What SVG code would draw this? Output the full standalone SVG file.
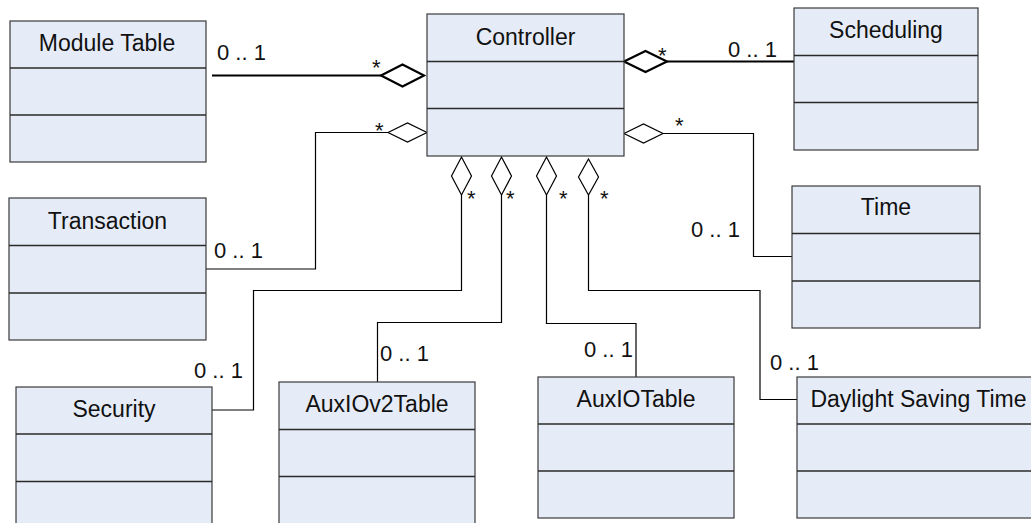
<svg xmlns="http://www.w3.org/2000/svg" width="1031" height="523" viewBox="0 0 1031 523">
<style>
.box{fill:#E6ECF7;stroke:#3a3a3a;stroke-width:1.2}
.div{stroke:#2a2a2a;stroke-width:1.4;fill:none}
.t{font-family:"Liberation Sans",Arial,sans-serif;font-size:22px;fill:#111}
.c{text-anchor:middle;font-size:23px}
.ln{fill:none;stroke:#000;stroke-width:1.2}
.thick{fill:none;stroke:#000;stroke-width:2.2}
.dm{fill:#fff;stroke:#000;stroke-width:1.2}
.dmt{fill:#fff;stroke:#000;stroke-width:2.2}
</style>
<rect width="1031" height="523" fill="#fff"/>
<g id="connectors">
  <path class="thick" d="M212,75.5H381"/>
  <polygon class="dmt" points="381,75.5 402.5,64.5 424,75.5 402.5,86.5"/>
  <path class="thick" d="M667,61.5H794"/>
  <polygon class="dmt" points="624,61.5 645.5,51 667,61.5 645.5,72"/>
  <path class="ln" d="M388,132.5H315.5V269H206"/>
  <polygon class="dm" points="388,132.5 407.5,123 427,132.5 407.5,142"/>
  <path class="ln" d="M663,133.5H753.5V256.5H792"/>
  <polygon class="dm" points="624,133.5 643.5,124 663,133.5 643.5,143"/>
  <path class="ln" d="M461.5,195V290.5H253.5V410H212"/>
  <polygon class="dm" points="461.5,157 471.5,176 461.5,195 451.5,176"/>
  <path class="ln" d="M501.5,195V322.5H377.5V382"/>
  <polygon class="dm" points="501.5,157 511.5,176 501.5,195 491.5,176"/>
  <path class="ln" d="M546.5,195V323.5H636V377"/>
  <polygon class="dm" points="546.5,157 556.5,176 546.5,195 536.5,176"/>
  <path class="ln" d="M588.5,195V290.5H760V399.5H797"/>
  <polygon class="dm" points="588.5,159 598.5,177 588.5,195 578.5,177"/>
  <text class="t" x="372" y="75">*</text>
  <text class="t" x="375" y="138">*</text>
  <text class="t" x="658" y="63">*</text>
  <text class="t" x="675" y="133">*</text>
  <text class="t" x="467" y="206">*</text>
  <text class="t" x="506" y="206">*</text>
  <text class="t" x="559" y="206">*</text>
  <text class="t" x="600" y="206">*</text>
  <text class="t" x="217" y="60">0 .. 1</text>
  <text class="t" x="214" y="258">0 .. 1</text>
  <text class="t" x="728" y="57">0 .. 1</text>
  <text class="t" x="691" y="237">0 .. 1</text>
  <text class="t" x="194" y="378">0 .. 1</text>
  <text class="t" x="380" y="361">0 .. 1</text>
  <text class="t" x="584" y="357">0 .. 1</text>
  <text class="t" x="770" y="370">0 .. 1</text>
</g>
<g id="module-table">
  <rect class="box" x="10" y="21" width="196" height="141"/>
  <path class="div" d="M10,68H206M10,115H206"/>
  <text class="t c" x="107" y="51">Module Table</text>
</g>
<g id="controller">
  <rect class="box" x="427" y="14" width="197" height="142"/>
  <path class="div" d="M427,61.5H624M427,108.5H624"/>
  <text class="t c" x="525.5" y="45">Controller</text>
</g>
<g id="scheduling">
  <rect class="box" x="794" y="8" width="184" height="142"/>
  <path class="div" d="M794,55.5H978M794,102.5H978"/>
  <text class="t c" x="886" y="38">Scheduling</text>
</g>
<g id="transaction">
  <rect class="box" x="9" y="198" width="197" height="142"/>
  <path class="div" d="M9,245.5H206M9,293H206"/>
  <text class="t c" x="107.5" y="229">Transaction</text>
</g>
<g id="time">
  <rect class="box" x="792" y="186" width="188" height="142"/>
  <path class="div" d="M792,233.5H980M792,281H980"/>
  <text class="t c" x="886" y="215">Time</text>
</g>
<g id="security">
  <rect class="box" x="16" y="387" width="196" height="142"/>
  <path class="div" d="M16,434H212M16,481.5H212"/>
  <text class="t c" x="114" y="417">Security</text>
</g>
<g id="auxiov2table">
  <rect class="box" x="279" y="382" width="196" height="142"/>
  <path class="div" d="M279,429.5H475M279,476.5H475"/>
  <text class="t c" x="377" y="412">AuxIOv2Table</text>
</g>
<g id="auxiotable">
  <rect class="box" x="538" y="377" width="196" height="141"/>
  <path class="div" d="M538,424H734M538,471H734"/>
  <text class="t c" x="636" y="407">AuxIOTable</text>
</g>
<g id="daylight-saving-time">
  <rect class="box" x="797" y="377" width="243" height="141"/>
  <path class="div" d="M797,424H1040M797,471H1040"/>
  <text class="t c" x="918.5" y="407">Daylight Saving Time</text>
</g>
</svg>
